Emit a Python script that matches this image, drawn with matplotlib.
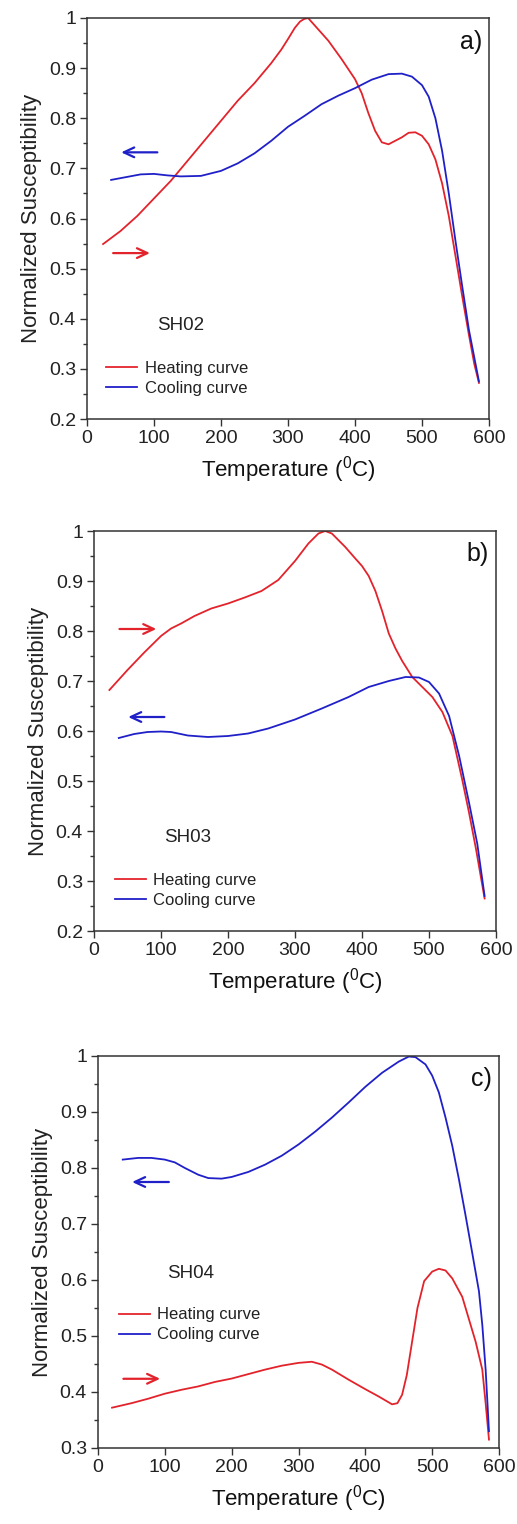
import matplotlib
matplotlib.use("Agg")
import matplotlib.pyplot as plt
from matplotlib.ticker import MultipleLocator

plt.rcParams['font.family'] = ['Liberation Sans', 'DejaVu Sans']
plt.rcParams['mathtext.default'] = 'regular'

RED = '#e3232b'
BLUE = '#2020c8'
DARK = '#333333'

# ---------------- data ----------------
# Panel a) SH02
a_heat_T = [24, 50, 75, 100, 125, 150, 175, 200, 225, 250, 275, 290, 300, 310, 318, 324, 330, 340, 360, 380,
            400, 410, 420, 430, 440, 450, 460, 470, 480, 490, 500, 510, 520, 530, 540, 550, 560, 570, 578, 585]
a_heat_v = [0.549, 0.575, 0.605, 0.640, 0.675, 0.715, 0.755, 0.795, 0.835, 0.870, 0.910, 0.937, 0.958, 0.980,
            0.993, 0.998, 1.000, 0.985, 0.955, 0.918, 0.878, 0.850, 0.810, 0.775, 0.752, 0.748, 0.755, 0.762,
            0.771, 0.772, 0.765, 0.748, 0.718, 0.670, 0.605, 0.525, 0.445, 0.368, 0.310, 0.272]
a_cool_T = [36, 60, 80, 100, 120, 140, 170, 200, 225, 250, 275, 300, 325, 350, 375, 400, 425, 450, 470,
            485, 500, 510, 520, 530, 540, 550, 560, 570, 585]
a_cool_v = [0.677, 0.683, 0.688, 0.689, 0.686, 0.684, 0.685, 0.695, 0.710, 0.730, 0.755, 0.783, 0.805, 0.828,
            0.845, 0.860, 0.877, 0.888, 0.889, 0.883, 0.866, 0.843, 0.800, 0.735, 0.650, 0.555, 0.465, 0.378,
            0.275]

# Panel b) SH03
b_heat_T = [23, 50, 75, 100, 115, 130, 150, 175, 200, 225, 250, 275, 300, 320, 335, 345, 355, 375, 390, 400,
            410, 420, 430, 440, 450, 460, 475, 490, 505, 520, 535, 550, 560, 570, 583]
b_heat_v = [0.682, 0.722, 0.757, 0.790, 0.805, 0.815, 0.830, 0.845, 0.855, 0.867, 0.880, 0.902, 0.940, 0.975,
            0.995, 1.000, 0.995, 0.968, 0.945, 0.930, 0.910, 0.880, 0.840, 0.795, 0.765, 0.740, 0.708, 0.688,
            0.668, 0.638, 0.590, 0.500, 0.435, 0.365, 0.265]
b_cool_T = [37, 60, 80, 100, 115, 140, 170, 200, 230, 260, 300, 340, 380, 410, 440, 465, 485, 500, 515,
            530, 545, 560, 572, 583]
b_cool_v = [0.586, 0.594, 0.598, 0.599, 0.598, 0.591, 0.588, 0.590, 0.595, 0.605, 0.623, 0.645, 0.668, 0.688,
            0.700, 0.708, 0.707, 0.698, 0.675, 0.630, 0.550, 0.455, 0.375, 0.270]

# Panel c) SH04
c_heat_T = [21, 50, 75, 100, 125, 150, 175, 200, 225, 250, 275, 300, 320, 335, 350, 375, 400, 420, 440,
            448, 455, 462, 470, 478, 488, 500, 510, 520, 530, 545, 555, 565, 575, 580, 585]
c_heat_v = [0.372, 0.380, 0.388, 0.397, 0.404, 0.410, 0.418, 0.424, 0.432, 0.440, 0.447, 0.452, 0.454, 0.449,
            0.440, 0.422, 0.405, 0.392, 0.378, 0.380, 0.395, 0.430, 0.490, 0.550, 0.598, 0.615, 0.620, 0.617,
            0.603, 0.570, 0.530, 0.490, 0.440, 0.380, 0.315]
c_cool_T = [37, 60, 80, 100, 115, 130, 150, 165, 185, 200, 225, 250, 275, 300, 325, 350, 375, 400, 425, 450,
            465, 475, 490, 500, 510, 520, 530, 540, 550, 560, 570, 575, 580, 585]
c_cool_v = [0.815, 0.818, 0.818, 0.815, 0.810, 0.800, 0.788, 0.782, 0.781, 0.784, 0.793, 0.806, 0.822, 0.842,
            0.865, 0.890, 0.917, 0.945, 0.970, 0.990, 0.999, 0.998, 0.985, 0.965, 0.935, 0.890, 0.840, 0.780,
            0.715, 0.648, 0.580, 0.520, 0.440, 0.330]

samples = ['SH02', 'SH03', 'SH04']
panel_tags = ['a)', 'b)', 'c)']
y_ranges = [(0.2, 1.0), (0.2, 1.0), (0.3, 1.0)]
x_ticks = [0, 100, 200, 300, 400, 500, 600]
legend_labels = ['Heating curve', 'Cooling curve']

# arrows (tail T, head T, value)
heat_arrows = [(39, 94, 0.531), (38, 93, 0.804), (38, 93, 0.4236)]
cool_arrows = [(105, 51, 0.732), (105, 51, 0.628), (106, 51, 0.775)]
sample_pos = [(104, 0.386), (104, 0.387), (104, 0.611)]
tag_pos = [(556, 0.952), (556, 0.955), (558, 0.959)]
legend_anchor = [(0.048, 0.101), (0.052, 0.101), (0.052, 0.314)]

axes_rects = [
    [87 / 517, 1 - 419 / 1524, 402 / 517, 401 / 1524],
    [94 / 517, 1 - 931 / 1524, 402 / 517, 400 / 1524],
    [98 / 517, 1 - 1448 / 1524, 401 / 517, 392 / 1524],
]

heats = [(a_heat_T, a_heat_v), (b_heat_T, b_heat_v), (c_heat_T, c_heat_v)]
cools = [(a_cool_T, a_cool_v), (b_cool_T, b_cool_v), (c_cool_T, c_cool_v)]

fig = plt.figure(figsize=(5.17, 15.24), dpi=100)

for i in range(3):
    ax = fig.add_axes(axes_rects[i])
    hT, hv = heats[i]
    cT, cv = cools[i]
    ax.plot(hT, hv, color=RED, lw=1.3, label=legend_labels[0], solid_joinstyle='round')
    ax.plot(cT, cv, color=BLUE, lw=1.3, label=legend_labels[1], solid_joinstyle='round')
    ax.set_xlim(0, 600)
    ax.set_ylim(*y_ranges[i])
    ax.set_xticks(x_ticks)
    ax.yaxis.set_major_locator(MultipleLocator(0.1))
    ax.yaxis.set_minor_locator(MultipleLocator(0.05))
    ax.set_yticklabels([('%g' % t) for t in ax.get_yticks()])
    ax.tick_params(axis='both', which='major', direction='out', length=5, width=1.0,
                   colors=DARK, labelsize=14, pad=3)
    ax.tick_params(axis='y', which='minor', direction='out', length=3, width=1.0, colors=DARK)
    for s in ax.spines.values():
        s.set_color(DARK)
        s.set_linewidth(1.1)
    for lab in ax.get_xticklabels() + ax.get_yticklabels():
        lab.set_color('#222222')
    ax.set_xlabel(r'Temperature ($^0$C)', fontsize=16, color='#111111', labelpad=5)
    ax.set_ylabel('Normalized Susceptibility', fontsize=16, color='#222222', labelpad=5)

    t0, t1, v = heat_arrows[i]
    ax.annotate('', xy=(t1, v), xytext=(t0, v),
                arrowprops=dict(arrowstyle='->,head_length=0.75,head_width=0.35', color=RED, lw=1.6,
                                shrinkA=0, shrinkB=0))
    t0, t1, v = cool_arrows[i]
    ax.annotate('', xy=(t1, v), xytext=(t0, v),
                arrowprops=dict(arrowstyle='->,head_length=0.75,head_width=0.35', color=BLUE, lw=1.6,
                                shrinkA=0, shrinkB=0))

    sx, sy = sample_pos[i]
    ax.text(sx, sy, samples[i], fontsize=13.5, color='#222222', ha='left', va='center')
    tx, ty = tag_pos[i]
    ax.text(tx, ty, panel_tags[i], fontsize=18, color='#111111', ha='left', va='center')

    ax.legend(loc='center left', bbox_to_anchor=legend_anchor[i], frameon=False, fontsize=12,
              handlelength=1.85, handletextpad=0.45, labelspacing=0.3, borderpad=0,
              borderaxespad=0, labelcolor='#222222')

fig.savefig('out.png', dpi=100)
